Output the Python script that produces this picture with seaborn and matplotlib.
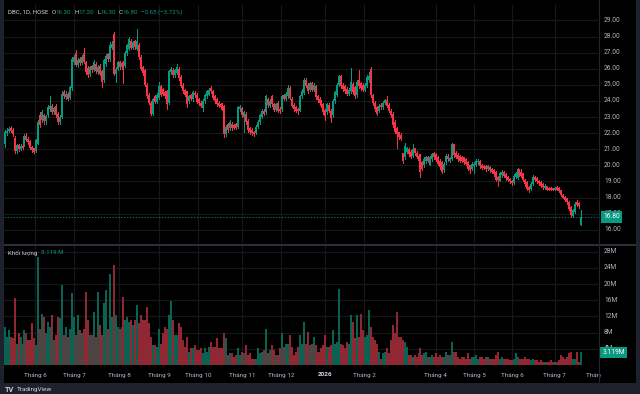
import matplotlib
matplotlib.use("Agg")
import matplotlib.pyplot as plt
from matplotlib.patches import Rectangle
from matplotlib.lines import Line2D
from matplotlib.transforms import Bbox, blended_transform_factory
import numpy as np
import pandas as pd
import seaborn as sns

# ---------------- data (DBC, 1D, HOSE) ----------------
open_ = [
    21.34,22.00,22.15,22.35,22.20,21.70,20.90,21.25,21.00,21.20,
    21.30,21.85,21.65,21.50,21.15,21.05,20.90,21.35,23.10,22.80,
    23.10,22.75,23.10,23.50,23.70,23.30,23.70,23.20,22.70,23.00,
    24.55,24.25,24.45,24.20,24.80,26.40,26.95,26.25,26.60,26.35,
    27.00,26.45,26.05,25.65,26.15,25.90,26.30,25.80,26.20,25.85,
    25.30,26.30,26.90,26.60,27.30,28.15,25.70,26.00,26.40,26.10,
    26.40,26.20,26.95,27.25,27.75,27.30,27.70,27.25,27.50,26.75,
    26.10,25.90,
    25.00,24.40,23.90,23.20,24.30,23.95,24.20,24.90,24.75,24.55,
    24.60,23.90,25.80,25.95,25.60,25.75,26.00,25.50,25.00,24.70,
    24.60,24.00,24.35,24.10,24.50,24.40,24.10,23.90,23.55,24.00,
    24.30,24.40,24.80,24.60,24.30,24.10,23.90,23.80,23.75,23.70,
    21.95,22.55,22.30,22.60,22.50,22.55,22.40,23.50,23.55,23.00,
    23.20,22.75,22.30,22.20,22.10,22.00,22.40,22.70,23.00,23.40,
    23.30,24.10,23.70,24.30,23.80,23.45,23.90,23.50,23.50,24.35,
    24.15,24.30,24.80,
    24.15,23.75,23.60,23.50,23.40,24.30,24.50,25.30,25.00,24.70,
    25.10,24.70,24.90,24.30,24.15,23.95,23.80,23.45,23.30,23.75,
    23.40,23.10,24.00,24.40,25.00,25.55,25.00,24.90,24.75,24.45,
    24.60,25.05,24.85,24.35,25.30,25.10,25.00,24.70,24.95,25.30,
    26.00,24.35,23.90,23.60,23.40,23.75,23.60,23.90,24.05,23.75,
    23.40,23.20,22.70,22.30,22.05,21.90,20.75,20.50,20.85,21.00,
    20.85,20.60,21.05,20.80,20.60,20.60,20.20,20.00,20.25,20.50,
    20.05,20.40,20.75,
    20.70,20.55,20.30,20.20,19.70,20.20,20.60,20.30,20.40,21.30,
    20.80,20.65,20.60,20.55,20.50,20.40,20.20,20.00,19.80,19.95,
    20.00,20.20,20.30,20.05,19.95,19.95,19.75,19.90,19.80,19.70,
    19.60,19.30,19.05,19.40,19.60,19.45,19.30,19.15,19.05,18.90,
    19.30,19.20,19.75,19.60,19.50,19.10,18.95,18.65,18.55,18.85,
    19.30,19.20,19.05,18.95,18.85,18.60,18.70,18.60,18.60,18.55,
    18.50,18.65,18.60,18.45,18.15,18.05,17.95,17.75,17.40,16.85,
    17.10,17.75,17.65,16.30,
]
close = [
    22.06,22.15,22.25,22.15,21.95,20.90,21.25,21.00,21.20,21.10,
    21.85,21.60,21.45,21.10,20.95,20.85,21.55,22.70,22.50,23.30,
    22.75,23.05,23.60,23.70,23.30,23.55,23.10,22.70,23.00,24.45,
    24.30,24.45,24.15,24.85,26.60,26.70,26.25,26.55,26.35,26.75,
    26.45,25.80,25.60,26.10,25.90,26.40,25.85,26.10,25.70,25.20,
    26.55,26.80,26.60,27.50,27.55,25.70,26.00,26.40,26.10,26.35,
    26.05,27.00,27.45,27.85,27.30,27.65,27.35,27.70,26.70,26.00,
    25.75,25.00,
    24.30,23.90,23.20,24.10,23.95,24.40,24.90,24.40,24.45,24.30,
    23.80,25.85,26.00,25.60,25.90,26.10,25.40,24.95,24.60,24.40,
    23.80,24.30,24.15,24.55,24.35,23.95,23.85,23.70,24.00,24.35,
    24.60,24.70,24.60,24.20,24.00,23.80,23.70,23.60,23.55,21.95,
    22.40,22.20,22.70,22.30,22.35,22.35,23.60,23.60,23.10,23.30,
    22.70,22.20,22.05,22.00,21.95,22.40,22.70,23.10,23.40,23.20,
    24.30,23.75,24.00,23.80,23.45,23.80,23.40,23.35,24.30,24.15,
    24.45,24.80,24.20,
    23.70,23.50,23.40,23.35,24.30,24.65,25.30,24.95,24.60,25.10,
    24.70,25.00,24.25,24.05,23.90,23.70,23.30,23.05,23.80,23.40,
    22.95,24.00,24.55,25.00,25.55,24.90,24.75,24.60,24.45,24.70,
    25.20,24.55,24.30,25.20,24.90,24.80,24.70,25.00,25.50,25.55,
    24.35,23.85,23.50,23.20,23.70,23.60,23.90,24.05,23.70,23.40,
    23.10,22.50,22.10,21.95,21.75,21.65,20.25,21.20,21.05,20.70,
    20.55,21.00,20.75,20.55,20.30,19.60,19.80,20.40,20.50,20.30,
    20.50,20.70,20.50,
    20.35,20.10,19.90,19.60,20.10,20.60,20.40,20.45,21.30,20.65,
    20.55,20.40,20.30,20.30,20.20,20.10,19.80,19.70,20.10,20.10,
    20.30,20.30,19.95,19.85,19.85,19.75,19.95,19.70,19.60,19.45,
    19.10,19.10,19.50,19.60,19.35,19.20,19.10,19.00,18.90,19.35,
    19.50,19.75,19.45,19.35,19.10,18.85,18.55,18.45,18.85,19.30,
    19.10,19.00,18.90,18.75,18.65,18.75,18.50,18.50,18.50,18.50,
    18.60,18.50,18.40,18.15,18.00,17.85,17.70,17.30,16.90,17.20,
    17.60,17.55,17.45,16.80,
]
high = [
    22.17,22.30,22.40,22.45,22.30,21.80,21.35,21.30,21.30,21.55,
    21.95,22.00,21.75,21.60,21.20,21.10,21.65,22.80,23.30,23.45,
    23.20,23.15,23.75,24.30,23.80,23.65,23.80,23.30,23.10,24.60,
    24.70,24.60,24.55,24.95,26.75,26.85,27.15,26.65,26.70,26.85,
    27.30,26.50,26.15,26.20,26.25,26.55,26.40,26.25,26.30,25.90,
    26.60,26.90,27.00,27.65,27.70,28.30,26.10,26.50,26.50,26.45,
    26.50,27.10,27.55,27.95,27.85,27.75,27.80,28.50,27.60,26.85,
    26.20,26.00,
    25.10,24.50,24.00,24.20,24.40,24.50,25.20,25.00,24.80,24.60,
    24.70,25.95,26.10,26.05,26.00,26.30,26.10,25.60,25.10,24.75,
    24.65,24.40,24.45,24.65,24.60,24.50,24.20,24.00,24.10,24.45,
    24.70,24.80,24.90,24.70,24.40,24.20,24.00,23.90,23.85,23.75,
    22.50,22.65,22.80,22.70,22.60,22.65,23.70,23.75,23.65,23.40,
    23.30,22.85,22.40,22.30,22.15,22.50,22.80,23.20,23.50,23.50,
    24.40,24.20,24.10,24.40,23.90,23.90,24.00,23.60,24.40,24.45,
    24.55,25.00,24.90,
    24.25,23.85,23.70,23.55,24.40,24.75,25.40,25.40,25.10,25.20,
    25.20,25.10,25.00,24.40,24.25,24.05,23.90,23.50,23.90,23.85,
    23.50,24.10,24.65,25.10,25.60,25.60,25.10,25.00,24.85,24.80,
    26.05,25.15,24.95,25.30,25.90,25.20,25.10,25.10,25.60,25.80,
    26.10,24.45,24.00,23.70,23.80,23.85,24.00,24.15,24.30,23.85,
    23.50,23.30,22.80,22.40,22.10,22.00,20.80,21.40,21.15,21.10,
    20.95,21.30,21.10,20.90,20.70,20.70,20.30,20.50,20.60,20.60,
    20.60,20.80,20.85,
    20.80,20.60,20.40,20.25,20.20,20.70,20.70,20.55,21.40,21.35,
    20.90,20.75,20.65,20.60,20.55,20.45,20.30,20.05,20.20,20.20,
    20.40,20.40,20.35,20.10,20.00,20.00,20.05,19.95,19.85,19.75,
    19.65,19.35,19.60,19.70,19.65,19.50,19.35,19.20,19.10,19.45,
    19.60,19.85,19.80,19.75,19.55,19.15,19.00,18.70,18.95,19.40,
    19.35,19.25,19.10,19.00,18.90,18.85,18.75,18.65,18.65,18.60,
    18.65,18.70,18.65,18.50,18.20,18.10,18.00,17.80,17.45,17.30,
    17.70,17.85,17.70,17.20,
]
low = [
    21.13,21.90,22.05,22.10,21.85,20.80,20.80,20.90,20.95,21.00,
    21.20,21.50,21.35,21.00,20.85,20.75,20.85,21.30,22.40,22.70,
    22.60,22.60,23.00,23.40,23.20,23.20,23.00,22.60,22.55,22.95,
    24.20,24.10,24.05,24.10,24.70,26.30,26.15,26.10,26.25,26.30,
    26.35,25.70,25.50,25.55,25.80,25.85,25.75,25.70,25.60,24.85,
    25.20,26.20,26.50,26.50,27.20,25.60,25.20,25.90,26.00,26.00,
    25.10,26.10,26.85,27.15,27.20,27.20,27.25,27.15,26.60,25.90,
    25.60,24.90,
    24.20,23.80,23.10,23.10,23.85,23.90,24.10,24.30,24.35,24.20,
    23.50,23.80,25.70,25.50,25.50,25.70,25.30,24.85,24.50,24.30,
    23.60,23.90,24.05,24.00,24.25,23.85,23.75,23.60,23.40,23.90,
    24.20,24.35,24.50,24.10,23.90,23.70,23.60,23.50,23.45,21.75,
    21.85,22.10,22.20,22.20,22.25,22.25,22.35,23.40,23.00,22.05,
    22.60,22.10,21.95,21.90,21.85,21.95,22.30,22.60,22.95,23.10,
    23.20,23.65,23.60,23.70,23.35,23.40,23.30,23.25,23.40,24.05,
    24.05,24.20,24.10,
    23.60,23.40,23.30,23.20,23.35,24.20,24.45,24.85,24.50,24.60,
    24.60,24.60,24.15,23.95,23.80,23.60,23.20,22.80,23.20,23.30,
    22.70,23.00,23.90,24.30,24.90,24.80,24.65,24.50,24.35,24.35,
    24.50,24.45,24.20,24.25,24.80,24.70,24.60,24.60,24.85,25.20,
    24.25,23.75,23.40,23.10,23.30,23.50,23.50,23.80,23.60,23.30,
    23.00,22.40,22.00,21.10,21.65,21.55,20.15,20.40,20.75,20.60,
    20.45,20.50,20.65,20.45,20.20,19.25,19.70,19.90,20.15,20.20,
    20.00,20.30,20.40,
    20.25,20.00,19.80,19.50,19.60,20.10,20.30,20.20,20.35,20.55,
    20.45,20.30,20.20,20.20,20.10,20.00,19.70,19.50,19.70,19.50,
    19.95,20.10,19.85,19.75,19.75,19.65,19.70,19.60,19.50,19.35,
    19.00,18.75,19.00,19.30,19.25,19.10,19.00,18.90,18.80,18.85,
    19.20,19.15,19.35,19.25,19.00,18.75,18.45,18.35,18.50,18.80,
    19.00,18.90,18.80,18.65,18.55,18.55,18.45,18.45,18.45,18.45,
    18.45,18.45,18.35,18.10,17.95,17.80,17.60,17.20,16.80,16.80,
    17.05,17.45,17.35,16.30,
]
volume_m = [
    9.5,7.0,8.6,7.0,6.6,16.5,5.3,7.8,7.0,5.3,
    8.6,7.8,6.2,6.2,10.3,6.6,4.9,26.7,9.0,12.7,
    11.9,7.8,10.7,9.5,12.3,6.2,7.4,11.9,11.5,19.8,
    7.4,9.5,7.0,9.0,17.7,11.9,7.4,12.3,8.6,7.8,
    9.0,18.1,11.1,7.4,7.4,13.2,7.0,18.1,9.9,7.4,
    15.3,18.5,9.0,22.6,11.9,24.7,12.3,9.5,9.0,9.5,
    16.9,11.1,11.9,10.7,11.1,9.9,11.1,14.8,10.3,12.3,
    11.1,11.1,
    14.4,10.3,7.0,4.9,4.9,4.5,9.0,5.3,7.8,9.5,
    9.0,12.3,15.8,11.1,7.4,7.4,10.3,9.5,6.2,4.5,
    7.0,3.3,4.1,4.1,4.9,3.7,3.7,4.1,2.9,4.1,
    3.3,4.5,5.8,4.5,4.5,6.6,4.1,4.1,4.1,7.8,
    6.6,2.5,2.9,2.9,2.1,2.5,4.1,2.5,3.3,2.9,
    4.9,2.5,2.9,1.6,1.6,1.6,4.1,2.9,3.3,3.7,
    9.0,2.9,3.7,4.9,3.7,2.5,2.5,4.1,7.8,4.5,
    5.3,5.3,7.4,
    4.5,2.5,3.3,4.5,7.4,5.3,10.7,5.3,8.2,4.9,
    5.3,7.0,4.9,3.3,3.3,4.1,4.9,7.4,4.5,4.5,
    4.9,8.6,5.3,5.8,18.9,5.3,4.9,4.1,5.8,5.3,
    12.3,10.7,6.6,12.3,7.0,12.7,8.6,7.0,7.4,13.6,
    9.5,7.0,6.2,5.3,3.3,1.6,2.9,3.3,4.1,2.9,
    6.2,9.9,7.8,13.2,7.0,7.0,6.2,5.8,4.5,2.5,
    2.5,2.1,2.5,2.1,2.9,4.1,2.5,2.9,3.3,2.1,
    2.1,2.5,2.1,
    2.9,2.1,2.5,2.1,2.1,3.3,2.5,2.5,5.8,3.3,
    3.3,2.1,1.6,2.1,2.1,1.6,2.9,1.6,2.1,2.1,
    2.5,1.6,2.1,2.1,1.6,2.1,2.1,1.6,1.6,1.6,
    2.5,3.3,1.6,2.1,1.6,1.6,1.6,1.2,1.2,1.6,
    2.9,2.1,1.6,1.6,1.6,2.1,1.6,1.6,1.2,1.6,
    1.2,1.2,0.8,1.2,0.8,0.8,0.8,0.8,1.2,0.8,
    0.8,0.8,1.2,2.5,2.1,1.6,2.1,2.9,3.3,1.6,
    1.6,3.3,0.8,3.119,
]
month_labels = ['Tháng 6', 'Tháng 7', 'Tháng 8', 'Tháng 9', 'Tháng 10', 'Tháng 11',
                'Tháng 12', '2026', 'Tháng 2', 'Tháng 4', 'Tháng 5', 'Tháng 6',
                'Tháng 7', 'Tháng 8']
month_pos = [15.3, 35.0, 57.7, 77.9, 97.6, 119.8, 139.5, 161.8, 181.5, 217.8,
             237.0, 256.2, 277.9, 299.5]
price_ticks = list(range(16, 30))
volume_ticks = [4, 8, 12, 16, 20, 24, 28]
symbol_title = 'DBC, 1D, HOSE'
volume_title = 'Khối lượng'

# ---------------- style ----------------
UP, DOWN = '#089981', '#f23645'
UP_V, DOWN_V = '#0b6253', '#8f2832'      # volume colours (half-tone on black)
BG, FRAME = '#000000', '#1e222d'
TXT, TXT2 = '#b2b5be', '#d1d4dc'
GRID = '#161719'
SEP = '#2a2e39'

sns.set_theme(style='dark', rc={'axes.facecolor': BG, 'figure.facecolor': FRAME,
                                'axes.edgecolor': BG})
plt.rcParams['font.family'] = ['Roboto', 'DejaVu Sans']

W, H = 640, 394
fig = plt.figure(figsize=(W / 100, H / 100), dpi=100)
renderer = fig.canvas.get_renderer()


def fx(x):
    return x / W


def fy(y):
    return 1 - y / H


def place(x, y, s, **kw):
    t = fig.text(fx(x), fy(y), s, va='center', ha='left', **kw)
    return t.get_window_extent(renderer).x1


fig.add_artist(Rectangle((fx(4), fy(383)), (636 - 4) / W, 383 / H,
                         transform=fig.transFigure, facecolor=BG,
                         edgecolor='none', zorder=-10))

L, R = 4, 598
ax_p = fig.add_axes([fx(L), fy(243), (R - L) / W, (243 - 5) / H])
ax_v = fig.add_axes([fx(L), fy(365), (R - L) / W, (365 - 246) / H])

n = len(close)
idx = np.arange(n)
df = pd.DataFrame({'idx': idx, 'open': open_, 'high': high, 'low': low,
                   'close': close, 'vol': volume_m})
df['up'] = df['close'] >= df['open']
col = np.where(df['up'], UP, DOWN)
vcol = np.where(df['up'], UP_V, DOWN_V)

# grids
for ax in (ax_p, ax_v):
    ax.set_facecolor(BG)
    sns.despine(ax=ax, left=True, bottom=True)
    for p in month_pos[:-1]:
        ax.axvline(p, color=GRID, lw=0.9, zorder=0)
for p in price_ticks:
    ax_p.axhline(p, color=GRID, lw=0.9, zorder=0)
for v in volume_ticks:
    ax_v.axhline(v, color=GRID, lw=0.9, zorder=0)

# last-price line (seaborn)
sns.lineplot(x=[-0.35, 299.65], y=[close[-1], close[-1]], ax=ax_p, color=UP,
             lw=0.7, alpha=0.7, zorder=2, dashes=False)
ax_p.lines[-1].set_linestyle((0, (1.5, 1.5)))

# candles: wicks + bodies (crisp, no antialiasing)
ax_p.vlines(df['idx'], df['low'], df['high'], colors=col, lw=0.72, zorder=3,
            capstyle='butt', antialiased=False)
body_lo = np.minimum(df['open'], df['close'])
body_hi = body_lo + np.maximum((df['close'] - df['open']).abs(), 0.07)
ax_p.vlines(df['idx'], body_lo, body_hi, colors=col, lw=1.1, zorder=4,
            capstyle='butt', antialiased=False)

# volume bars (crisp)
ax_v.vlines(df['idx'], 0, df['vol'], colors=vcol, lw=1.15, zorder=3,
            capstyle='butt', antialiased=False)

for ax in (ax_p, ax_v):
    ax.set_xlim(-0.35, 299.65)
    ax.set_xticks([]); ax.set_yticks([])
    ax.set_xlabel(''); ax.set_ylabel('')
ax_p.set_ylim(15.18, 29.96)
ax_v.set_ylim(0, 29.4)

# separators
fig.add_artist(Line2D([fx(4), fx(636)], [fy(244.5), fy(244.5)], color=SEP, lw=1.5,
                      transform=fig.transFigure))
fig.add_artist(Line2D([fx(598.5), fx(598.5)], [fy(0), fy(383)], color='#22252c', lw=0.8,
                      transform=fig.transFigure))

# price scale
tp = blended_transform_factory(fig.transFigure, ax_p.transData)
for p in price_ticks:
    ax_p.text(fx(604), p, f'{p:.2f}', transform=tp, fontsize=4.8, color=TXT,
              va='center', ha='left', clip_on=False)
ax_p.text(fx(603), close[-1], f'{close[-1]:.2f}', transform=tp, fontsize=4.8,
          color='white', va='center', ha='left', clip_on=False, zorder=10,
          bbox=dict(boxstyle='square,pad=0.35', fc=UP, ec='none'))

tv = blended_transform_factory(fig.transFigure, ax_v.transData)
for v in volume_ticks:
    ax_v.text(fx(604), v, f'{v}M', transform=tv, fontsize=4.8, color=TXT,
              va='center', ha='left', clip_on=False)
ax_v.text(fx(602.5), volume_m[-1], f'{volume_m[-1]:.3f}M', transform=tv, fontsize=4.8,
          color='white', va='center', ha='left', clip_on=False, zorder=10,
          bbox=dict(boxstyle='square,pad=0.35', fc=UP, ec='none'))

# time scale
tt = blended_transform_factory(ax_v.transData, fig.transFigure)
for lab, pos in zip(month_labels, month_pos):
    bold = lab.isdigit()
    t = ax_v.text(pos, fy(375), lab, transform=tt, fontsize=4.6,
                  color=TXT2 if bold else TXT, fontweight='bold' if bold else 'normal',
                  ha='center', va='center', clip_on=False)
    if pos > 290:
        t.set_clip_box(Bbox.from_extents(0, 0, 600.5, H))
        t.set_clip_on(True)

# header legend (chained)
prev = close[-2]
chg = close[-1] - prev
pct = chg / prev * 100
FS = 4.4
x = place(8, 12, symbol_title, fontsize=FS, color=TXT2) + 3.5
items = [('O', f'{open_[-1]:.2f}'), ('H', f'{high[-1]:.2f}'),
         ('L', f'{low[-1]:.2f}'), ('C', f'{close[-1]:.2f}')]
for key, val in items:
    x = place(x, 12, key, fontsize=FS, color=TXT2) - 0.3
    x = place(x, 12, val, fontsize=FS, color=UP) + 3.0
place(x, 12, f'{chg:+.2f} ({pct:+.2f}%)'.replace('-', '\u2212'), fontsize=FS, color=UP)

x1 = place(8, 253, volume_title, fontsize=FS, color=TXT2)
place(x1 + 3.5, 253, f'{volume_m[-1]:.3f} M', fontsize=FS, color=UP)

# footer
x1 = place(5, 389.5, 'TV', fontsize=5.2, color=TXT2, fontweight='bold')
place(x1 + 2.5, 389.5, 'TradingView', fontsize=4.6, color=TXT2)

fig.savefig('out.png', dpi=100, facecolor=fig.get_facecolor())
